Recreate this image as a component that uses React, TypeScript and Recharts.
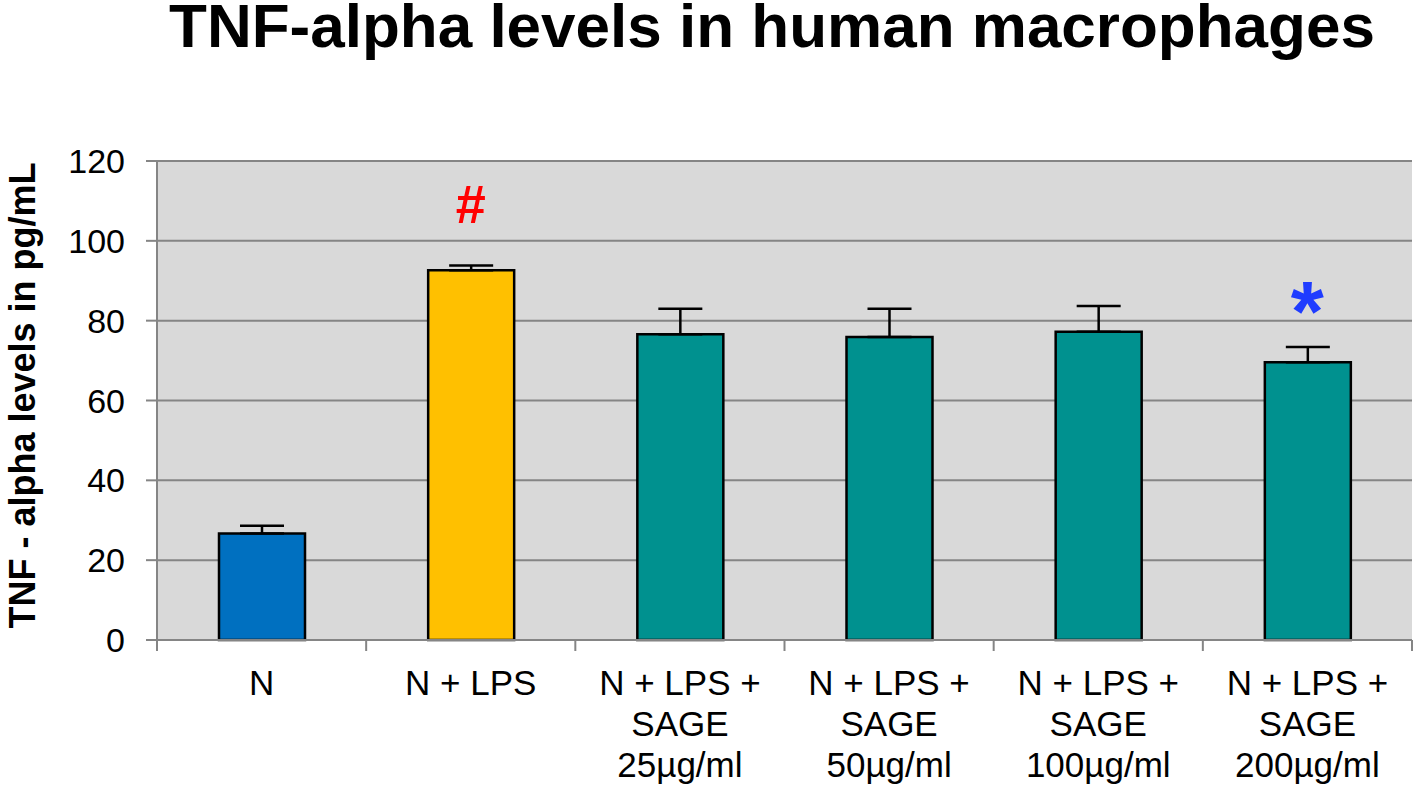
import React from "react";
import {
  ComposedChart,
  Bar,
  Cell,
  ErrorBar,
  Scatter,
  XAxis,
  YAxis,
  CartesianGrid,
} from "recharts";

const groups = [
  "N",
  "N + LPS",
  "N + LPS +\nSAGE\n25µg/ml",
  "N + LPS +\nSAGE\n50µg/ml",
  "N + LPS +\nSAGE\n100µg/ml",
  "N + LPS +\nSAGE\n200µg/ml",
];
const tnf = [26.7, 92.6, 76.6, 75.9, 77.2, 69.6];
const sem = [1.9, 1.2, 6.4, 7.1, 6.5, 3.8];
const barColors = ["#0070C0", "#FFC000", "#00918F", "#00918F", "#00918F", "#00918F"];
const marks = ["", "#", "", "", "", "*"];
const markColors = ["", "#FF0000", "", "", "", "#1F3CFF"];
const markLevel = [null, 104.5, null, null, null, 75];
const yTicks = [0, 20, 40, 60, 80, 100, 120];

const data = groups.map((g, i) => ({
  name: g,
  value: tnf[i],
  err: [0, sem[i]],
  mark: marks[i],
  markColor: markColors[i],
  markY: markLevel[i],
}));

const FONT = "'Liberation Sans', Arial, sans-serif";
const AXIS = "#858585";

// category label + tick marks at the category boundaries (excel style)
const GroupTick = (props: any) => {
  const { x, y, payload, index, visibleTicksCount, width } = props;
  const n = visibleTicksCount || groups.length;
  const band = width ? width / n : 209.2;
  const lines = String(payload.value).split("\n");
  const top = y - 8;
  return (
    <g>
      <line x1={x - band / 2} x2={x - band / 2} y1={top} y2={top + 11} stroke={AXIS} strokeWidth={2} />
      {index === n - 1 && (
        <line x1={x + band / 2} x2={x + band / 2} y1={top} y2={top + 11} stroke={AXIS} strokeWidth={2} />
      )}
      <text x={x} y={y} textAnchor="middle" fontFamily={FONT} fontSize={35} fill="#000">
        {lines.map((l, i) => (
          <tspan key={i} x={x} dy={i === 0 ? 47 : 41}>
            {l}
          </tspan>
        ))}
      </text>
    </g>
  );
};

const YLabel = (props: any) => {
  const vb = props.viewBox || {};
  const cx = (vb.x || 0) + 22;
  const cy = (vb.y || 0) + (vb.height || 0) / 2 - 5;
  return (
    <text
      x={cx}
      y={cy}
      transform={`rotate(-90, ${cx}, ${cy})`}
      textAnchor="middle"
      dominantBaseline="central"
      fontFamily={FONT}
      fontWeight="bold"
      fontSize={36}
      fill="#000"
    >
      TNF - alpha levels in pg/mL
    </text>
  );
};

const MarkShape = (props: any) => {
  const { cx, cy, payload } = props;
  if (!payload || !payload.mark) return <g />;
  const big = payload.mark === "*";
  return (
    <text
      x={cx}
      y={cy}
      textAnchor="middle"
      fontFamily={FONT}
      fontWeight="bold"
      fontSize={big ? 85 : 54}
      fill={payload.markColor}
    >
      {payload.mark}
    </text>
  );
};

export default function App() {
  return (
    <div style={{ position: "absolute", left: 0, top: 0, width: 1418, height: 788, background: "#fff", overflow: "hidden" }}>
      <div
        style={{
          position: "absolute",
          left: 126,
          top: 0,
          width: 1292,
          textAlign: "center",
          fontFamily: FONT,
          fontWeight: "bold",
          fontSize: 62,
          lineHeight: "52px",
          color: "#000",
          whiteSpace: "nowrap",
          zIndex: 2,
        }}
      >
        TNF-alpha levels in human macrophages
      </div>
      <ComposedChart
        width={1418}
        height={788}
        data={data}
        margin={{ top: 161, right: 6, left: 0, bottom: 0 }}
      >
        <CartesianGrid
          vertical={false}
          fill="#D9D9D9"
          stroke={AXIS}
          strokeWidth={2}
          horizontalValues={yTicks}
        />
        <XAxis
          dataKey="name"
          height={148}
          interval={0}
          tickLine={false}
          axisLine={{ stroke: AXIS, strokeWidth: 2 }}
          tick={<GroupTick />}
        />
        <YAxis
          width={157}
          domain={[0, 120]}
          ticks={yTicks}
          interval={0}
          tickSize={11}
          tickMargin={21}
          tickLine={{ stroke: AXIS, strokeWidth: 2 }}
          axisLine={{ stroke: AXIS, strokeWidth: 2 }}
          tick={{ fontFamily: FONT, fontSize: 34, fill: "#000" }}
          label={<YLabel />}
        />
        <Bar dataKey="value" barSize={86} stroke="#000" strokeWidth={2.5} isAnimationActive={false}>
          {data.map((d, i) => (
            <Cell key={i} fill={barColors[i]} />
          ))}
          <ErrorBar dataKey="err" width={22} stroke="#000" strokeWidth={2.5} direction="y" />
        </Bar>
        <Scatter dataKey="markY" shape={<MarkShape />} isAnimationActive={false} />
      </ComposedChart>
    </div>
  );
}
